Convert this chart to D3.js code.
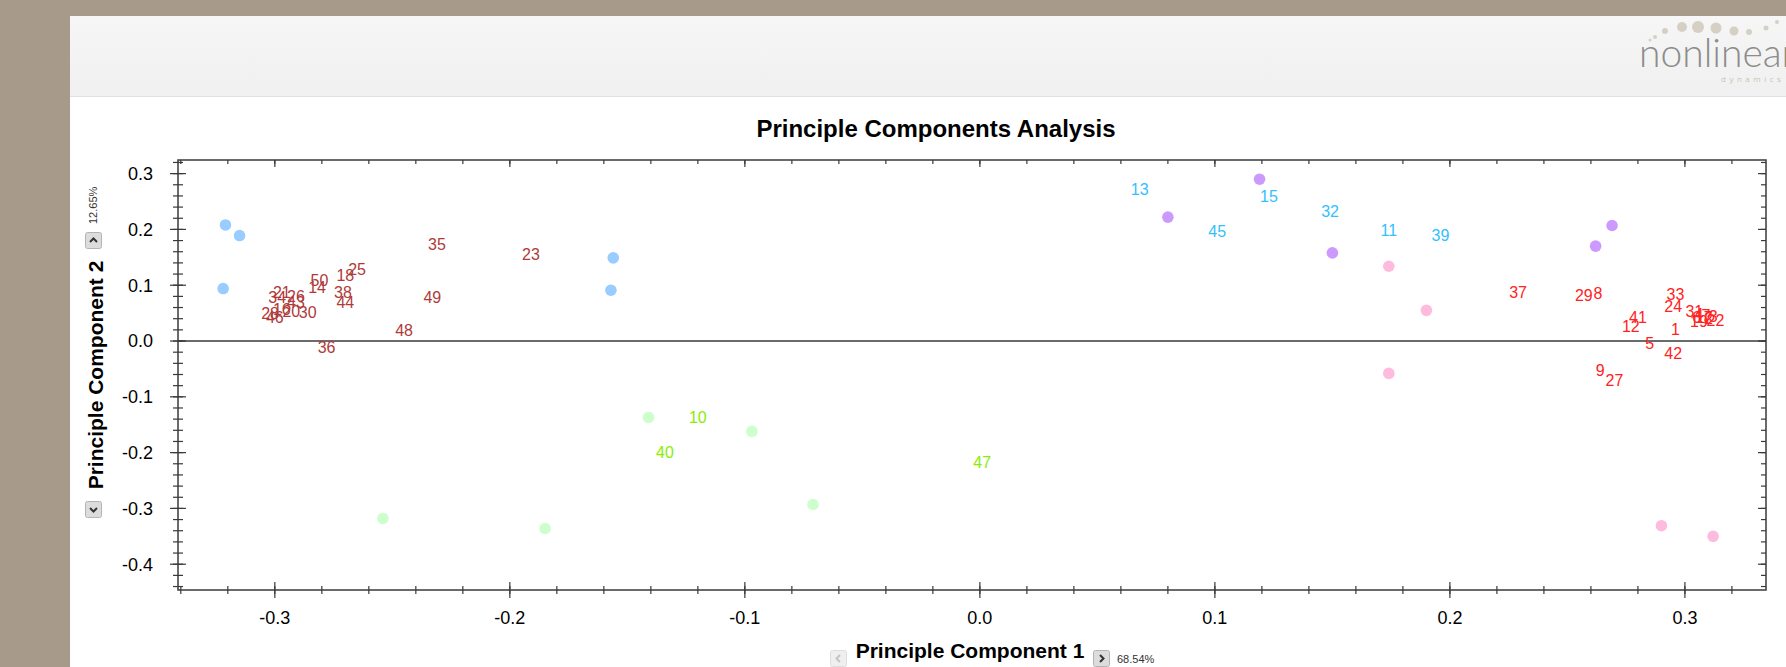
<!DOCTYPE html>
<html>
<head>
<meta charset="utf-8">
<script src="https://cdnjs.cloudflare.com/ajax/libs/d3/7.8.5/d3.min.js"></script>
<style>
  html, body { margin: 0; padding: 0; background: #a89a8b; }
  svg { display: block; }
  .tick-lbl { font: 18px "Liberation Sans", Arial, sans-serif; fill: #000; }
  .num { font: 16px "Liberation Sans", Arial, sans-serif; }
</style>
</head>
<body>
<div id="chart"></div>
<script>
// --- data ---
var xTicks = [-0.3, -0.2, -0.1, 0.0, 0.1, 0.2, 0.3];
var yTicks = [0.3, 0.2, 0.1, 0.0, -0.1, -0.2, -0.3, -0.4];

// run dots
var blueDots = [[-0.321, 0.208], [-0.315, 0.189], [-0.322, 0.094], [-0.156, 0.149], [-0.157, 0.091]];
var purpleDots = [[0.080, 0.222], [0.119, 0.290], [0.150, 0.158], [0.262, 0.170], [0.269, 0.207]];
var greenDots = [[-0.254, -0.318], [-0.185, -0.336], [-0.141, -0.137], [-0.097, -0.162], [-0.071, -0.293]];
var pinkDots = [[0.174, 0.134], [0.190, 0.055], [0.174, -0.058], [0.290, -0.331], [0.312, -0.350]];

// compound labels
var brownLabels = [
  ["35", -0.231, 0.174], ["23", -0.191, 0.156], ["25", -0.265, 0.129], ["18", -0.270, 0.118],
  ["50", -0.281, 0.109], ["14", -0.282, 0.097], ["38", -0.271, 0.087], ["44", -0.270, 0.069],
  ["49", -0.233, 0.079], ["48", -0.245, 0.019], ["36", -0.278, -0.011], ["30", -0.286, 0.051],
  ["21", -0.297, 0.087], ["26", -0.291, 0.081], ["34", -0.299, 0.078], ["43", -0.291, 0.070],
  ["20", -0.293, 0.054], ["28", -0.302, 0.050], ["46", -0.300, 0.043], ["16", -0.297, 0.057]
];
var cyanLabels = [
  ["13", 0.068, 0.272], ["15", 0.123, 0.260], ["32", 0.149, 0.233],
  ["45", 0.101, 0.197], ["11", 0.174, 0.199], ["39", 0.196, 0.189]
];
var greenLabels = [["10", -0.120, -0.137], ["40", -0.134, -0.200], ["47", 0.001, -0.217]];
var redLabels = [
  ["37", 0.229, 0.087], ["29", 0.257, 0.082], ["8", 0.263, 0.085], ["33", 0.296, 0.084],
  ["24", 0.295, 0.063], ["41", 0.280, 0.042], ["12", 0.277, 0.027], ["1", 0.296, 0.021],
  ["5", 0.285, -0.004], ["42", 0.295, -0.022], ["9", 0.264, -0.052], ["27", 0.270, -0.070],
  ["31", 0.304, 0.053], ["4", 0.306, 0.048], ["6", 0.305, 0.042], ["19", 0.306, 0.035],
  ["2", 0.310, 0.040], ["3", 0.312, 0.044], ["22", 0.313, 0.037], ["7", 0.309, 0.046],
  ["17", 0.308, 0.043]
];

var W = 1786, H = 667;
var plot = {left: 178, right: 1766, top: 160, bottom: 590};

var svg = d3.select("#chart").append("svg").attr("width", W).attr("height", H);

// page panel + header band
svg.append("rect").attr("x", 70).attr("y", 16).attr("width", W - 70).attr("height", H - 16).attr("fill", "#fff");
var grad = svg.append("defs").append("linearGradient").attr("id", "hdr").attr("x1", 0).attr("y1", 0).attr("x2", 0).attr("y2", 1);
grad.append("stop").attr("offset", "0%").attr("stop-color", "#f6f6f6");
grad.append("stop").attr("offset", "100%").attr("stop-color", "#f0f0f0");
svg.append("rect").attr("x", 70).attr("y", 16).attr("width", W - 70).attr("height", 80).attr("fill", "url(#hdr)");
svg.append("line").attr("x1", 70).attr("x2", W).attr("y1", 96.5).attr("y2", 96.5).attr("stroke", "#e2e2e2");

// logo
var logo = svg.append("g");
var logoDots = [[1650, 40, 1.5], [1655, 37, 2], [1665, 31, 3], [1682, 27, 5], [1698, 27, 6], [1716, 28, 5.5],
  [1734, 31, 4.5], [1749, 32, 3], [1766, 28, 2.5], [1777, 22, 2]];
logo.selectAll("circle").data(logoDots).enter().append("circle")
  .attr("cx", function(d){ return d[0]; }).attr("cy", function(d){ return d[1]; }).attr("r", function(d){ return d[2]; })
  .attr("fill", "#d6d0c4");
logo.append("text").attr("x", 1639).attr("y", 67).text("nonlinear")
  .style("font", "300 39px Lato, 'Open Sans', sans-serif").style("fill", "#8c8c8c");
logo.append("text").attr("x", 1721).attr("y", 82).text("dynamics")
  .style("font", "8px 'Open Sans', sans-serif").style("fill", "#cbc3b3").style("letter-spacing", "3.5px");

// scales
var x = d3.scaleLinear().domain([-0.3412, 0.3345]).range([plot.left, plot.right]);
var y = d3.scaleLinear().domain([-0.4462, 0.3244]).range([plot.bottom, plot.top]);
var fmt = function(d){ return d3.format(".1f")(d).replace("\u2212", "-"); };

// title
svg.append("text").attr("x", 936).attr("y", 137).attr("text-anchor", "middle")
  .style("font", "bold 24px 'Liberation Sans', Arial, sans-serif").text("Principle Components Analysis");

var axisColor = "#3a3a3a";
var minorX = d3.range(-34, 34, 2).map(function(v){ return v / 100; });
var minorY = d3.range(-44, 33, 2).map(function(v){ return v / 100; });

var ticks = svg.append("g").attr("stroke", axisColor).attr("stroke-width", 1.2);
// vertical tick marks along a horizontal edge
function hTicks(vals, y1, y2) {
  ticks.append("g").selectAll("line").data(vals).enter().append("line")
    .attr("x1", function(d){ return x(d); }).attr("x2", function(d){ return x(d); })
    .attr("y1", y1).attr("y2", y2);
}
// horizontal tick marks along a vertical edge
function vTicks(vals, x1, x2) {
  ticks.append("g").selectAll("line").data(vals).enter().append("line")
    .attr("y1", function(d){ return y(d); }).attr("y2", function(d){ return y(d); })
    .attr("x1", x1).attr("x2", x2);
}
hTicks(minorX, plot.bottom - 4, plot.bottom + 4);
hTicks(xTicks, plot.bottom - 8, plot.bottom + 8);
hTicks(minorX, plot.top, plot.top + 4);
hTicks(xTicks, plot.top, plot.top + 7);
vTicks(minorY, plot.left - 5, plot.left + 5);
vTicks(yTicks, plot.left - 8, plot.left + 8);
vTicks(minorY, plot.right - 5, plot.right);
vTicks(yTicks, plot.right - 8, plot.right);

svg.append("g").selectAll("text").data(xTicks).enter().append("text")
  .attr("class", "tick-lbl").attr("x", function(d){ return x(d); }).attr("y", plot.bottom + 34)
  .attr("text-anchor", "middle").text(fmt);
svg.append("g").selectAll("text").data(yTicks).enter().append("text")
  .attr("class", "tick-lbl").attr("x", plot.left - 25).attr("y", function(d){ return y(d); })
  .attr("dy", "0.36em").attr("text-anchor", "end").text(fmt);

// frame + zero line
svg.append("rect").attr("x", plot.left).attr("y", plot.top)
  .attr("width", plot.right - plot.left).attr("height", plot.bottom - plot.top)
  .attr("fill", "none").attr("stroke", axisColor).attr("stroke-width", 1.5);
svg.append("line").attr("x1", plot.left).attr("x2", plot.right)
  .attr("y1", y(0)).attr("y2", y(0)).attr("stroke", axisColor).attr("stroke-width", 1.5);

// dots
var g = svg.append("g");
function dots(data, color) {
  g.append("g").selectAll("circle").data(data).enter().append("circle")
    .attr("cx", function(d){ return x(d[0]); }).attr("cy", function(d){ return y(d[1]); })
    .attr("r", 5.8).attr("fill", color);
}
dots(blueDots, "#99ccff");
dots(purpleDots, "#cc99ff");
dots(greenDots, "#ccffcc");
dots(pinkDots, "#ffbbdd");

function labels(data, color) {
  g.append("g").selectAll("text").data(data).enter().append("text")
    .attr("class", "num").attr("x", function(d){ return x(d[1]); }).attr("y", function(d){ return y(d[2]); })
    .attr("dy", "0.36em").attr("text-anchor", "middle").style("fill", color).text(function(d){ return d[0]; });
}
labels(brownLabels, "#b03a3a");
labels(cyanLabels, "#33c0ff");
labels(greenLabels, "#88ee00");
labels(redLabels, "#ff2222");

// axis titles
svg.append("text").attr("x", 970).attr("y", 658).attr("text-anchor", "middle")
  .style("font", "bold 21px 'Liberation Sans', Arial, sans-serif").text("Principle Component 1");
svg.append("text").attr("transform", "translate(103,375) rotate(-90)").attr("text-anchor", "middle")
  .style("font", "bold 21px 'Liberation Sans', Arial, sans-serif").text("Principle Component 2");

// small scroll buttons and variance text
function button(bx, by, glyph, enabled) {
  var b = svg.append("g").attr("transform", "translate(" + bx + "," + by + ")");
  b.append("rect").attr("x", 0.5).attr("y", 0.5).attr("width", 16).attr("height", 16).attr("rx", 2)
    .attr("fill", enabled ? "#dcdcdc" : "#efefef").attr("stroke", enabled ? "#b4b4b4" : "#dedede");
  b.append("path").attr("d", glyph).attr("fill", "none")
    .attr("stroke", enabled ? "#333" : "#c4c4c4").attr("stroke-width", 2);
}
button(85, 232, "M5,10 L8.5,6.5 L12,10", true);
button(85, 501, "M5,7 L8.5,10.5 L12,7", true);
button(830, 650, "M10,5 L6.5,8.5 L10,12", false);
button(1093, 650, "M7,5 L10.5,8.5 L7,12", true);
svg.append("text").attr("x", 1117).attr("y", 663)
  .style("font", "11px 'Liberation Sans', Arial, sans-serif").style("fill", "#333").text("68.54%");
svg.append("text").attr("transform", "translate(97,224) rotate(-90)")
  .style("font", "11px 'Liberation Sans', Arial, sans-serif").style("fill", "#333").text("12.65%");
</script>
</body>
</html>
